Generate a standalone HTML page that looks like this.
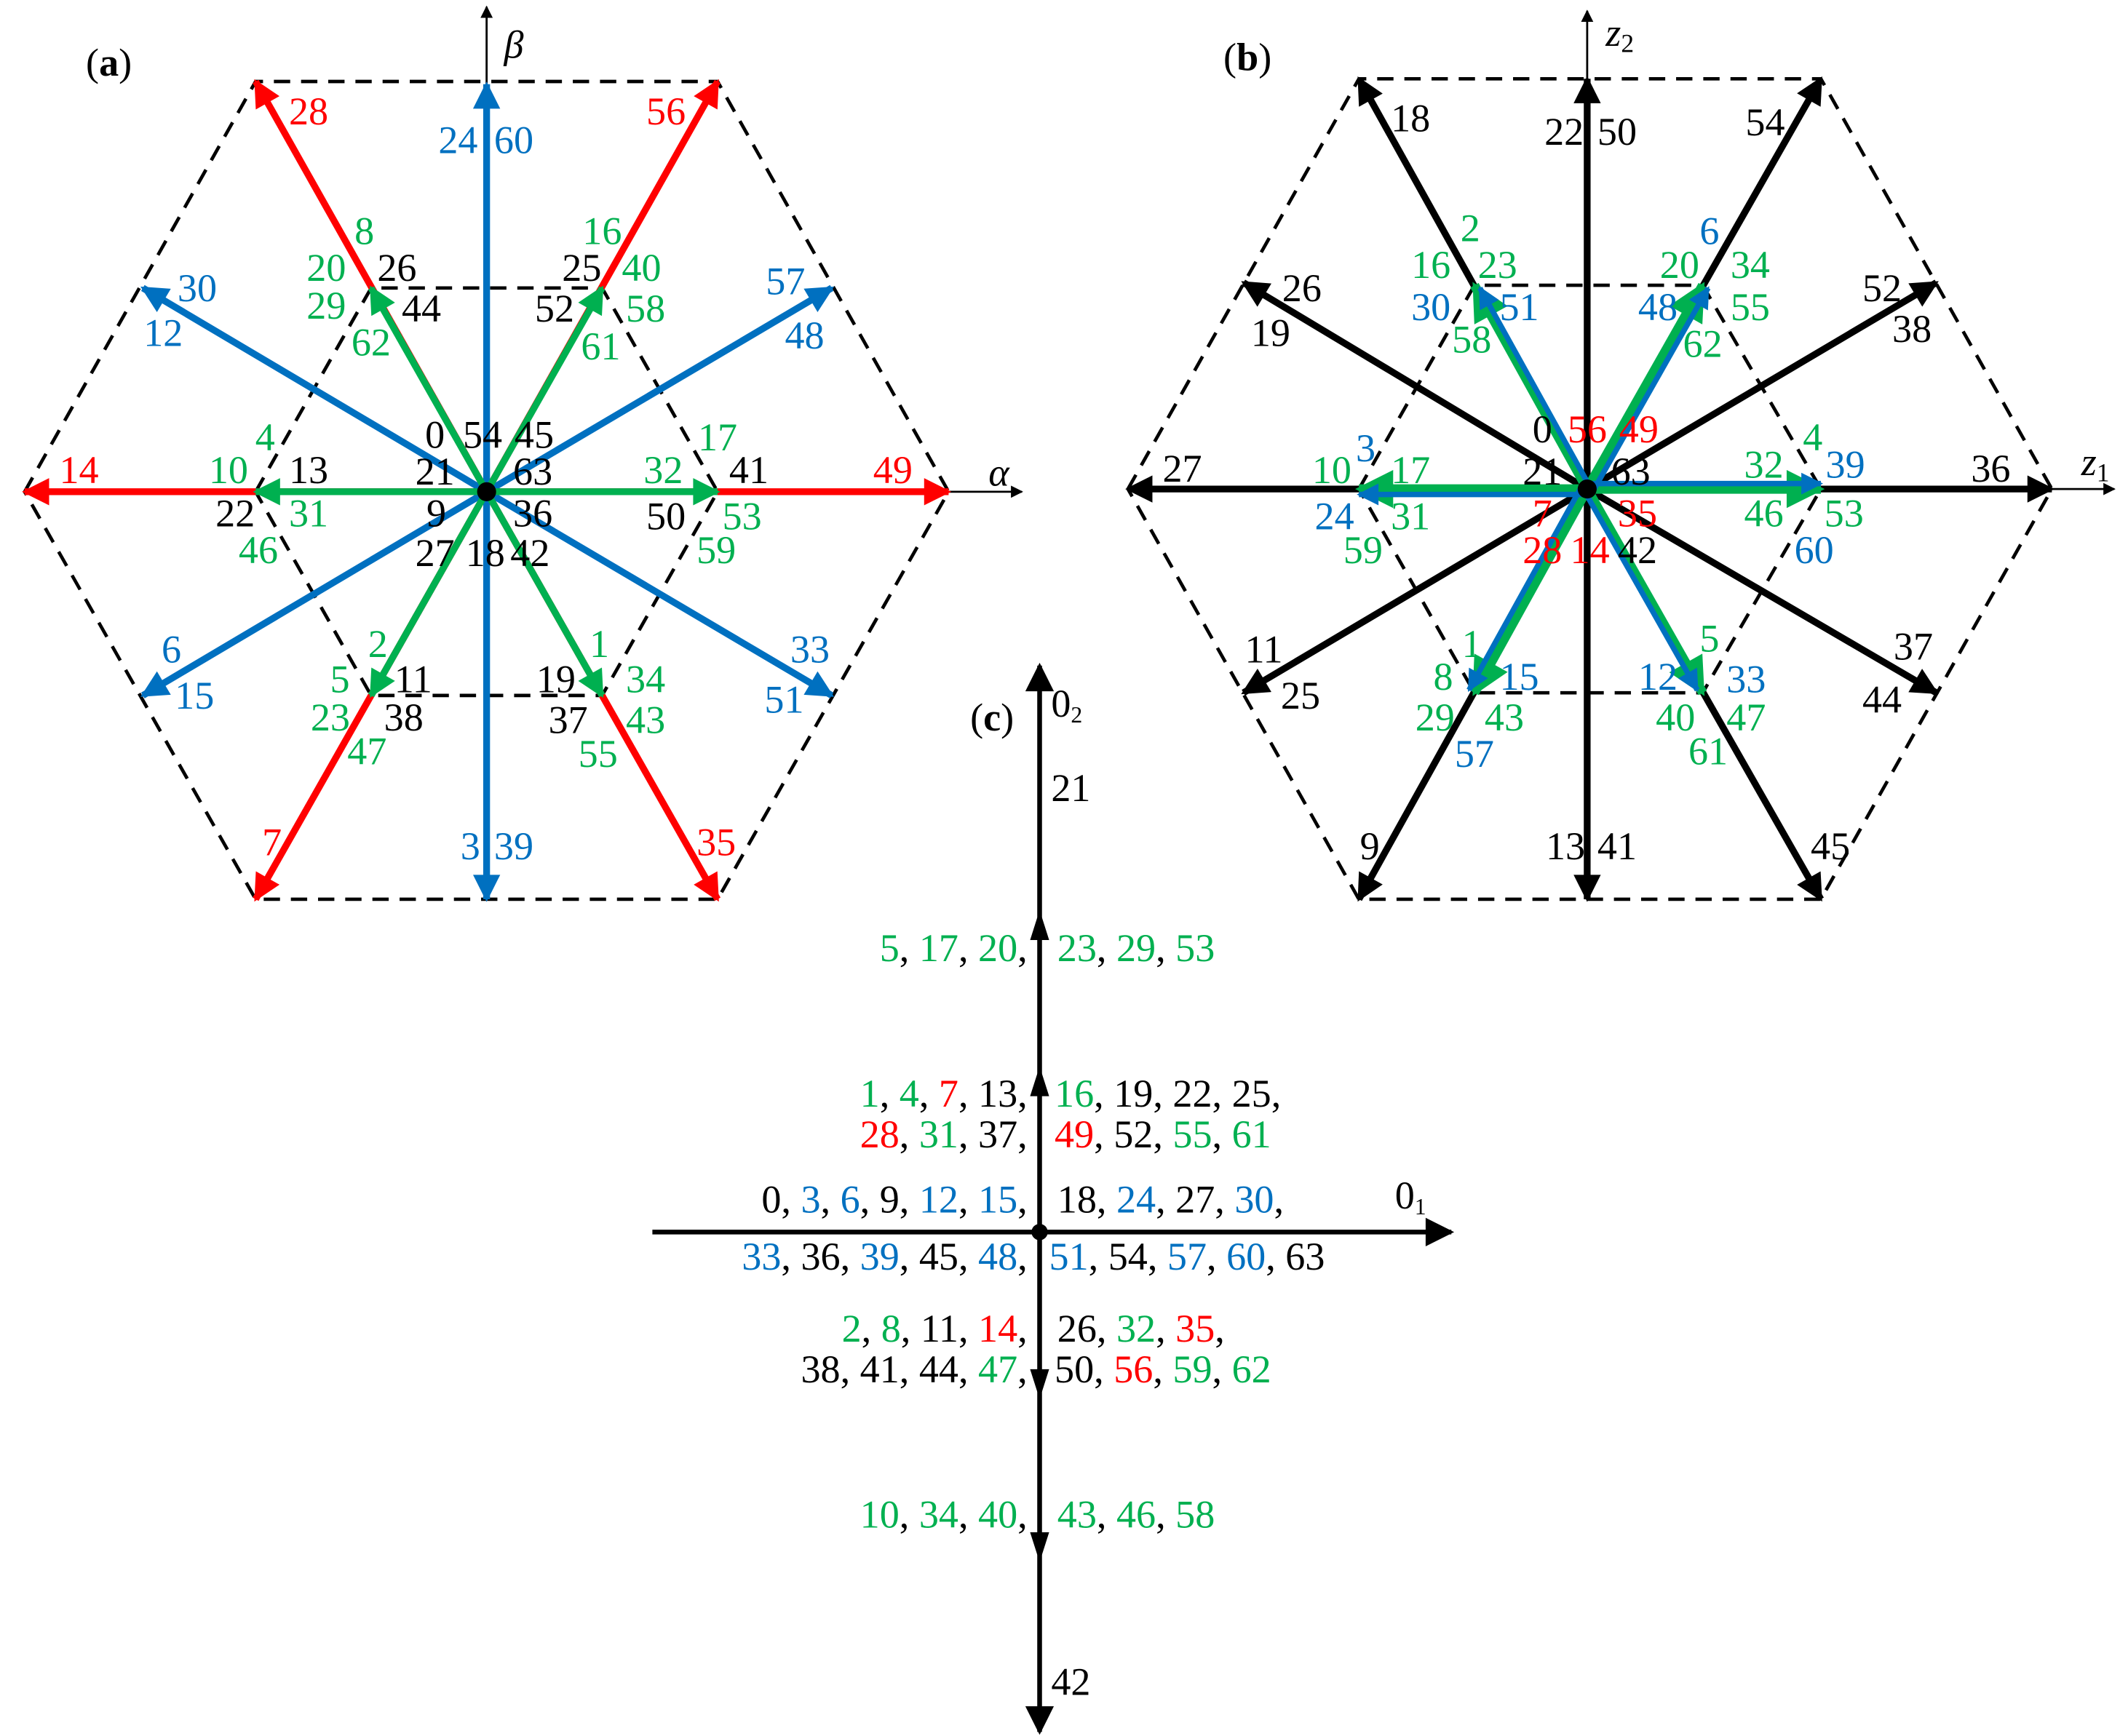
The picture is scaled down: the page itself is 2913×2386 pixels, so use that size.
<!DOCTYPE html>
<html><head><meta charset="utf-8"><style>
html,body{margin:0;padding:0;background:#fff}
svg{display:block}
svg, svg text{font-family:"Liberation Serif","DejaVu Serif",serif}
text{font-size:29px;text-anchor:middle;dominant-baseline:central}
.b{fill:#0070C0}.g{fill:#00B050}.r{fill:#FF0000}.k{fill:#000}
.L{text-anchor:end}.S{text-anchor:start}
</style></head><body>
<svg width="2913" height="2386" viewBox="0 0 1560 1278" xmlns="http://www.w3.org/2000/svg" font-family="Liberation Serif, serif">
<defs>
<marker id="mb" viewBox="0 0 10 10" refX="9" refY="5" markerWidth="5" markerHeight="4" orient="auto" markerUnits="strokeWidth"><path d="M0,0L10,5L0,10z" fill="#0070C0"/></marker>
<marker id="mg" viewBox="0 0 10 10" refX="9" refY="5" markerWidth="5" markerHeight="4" orient="auto" markerUnits="strokeWidth"><path d="M0,0L10,5L0,10z" fill="#00B050"/></marker>
<marker id="mr" viewBox="0 0 10 10" refX="9" refY="5" markerWidth="5" markerHeight="4" orient="auto" markerUnits="strokeWidth"><path d="M0,0L10,5L0,10z" fill="#FF0000"/></marker>
<marker id="mk" viewBox="0 0 10 10" refX="9" refY="5" markerWidth="5" markerHeight="4" orient="auto" markerUnits="strokeWidth"><path d="M0,0L10,5L0,10z" fill="#000"/></marker>
<marker id="mt" viewBox="0 0 10 10" refX="9" refY="5" markerWidth="9" markerHeight="6" orient="auto" markerUnits="strokeWidth"><path d="M0,0L10,5L0,10z" fill="#000"/></marker>
</defs>

<!-- Panel (a) -->
<g fill="none" stroke="#000" stroke-width="2.5" stroke-dasharray="12,8">
<polygon points="18,362 188,60 528,60 698,362 528,662 188,662"/>
<polygon points="188,362 273,212 443,212 528,362 443,512 273,512"/>
</g>
<line x1="358" y1="362" x2="358" y2="5" stroke="#000" stroke-width="1.5" marker-end="url(#mt)"/>
<line x1="358" y1="362" x2="752" y2="362" stroke="#000" stroke-width="1.5" marker-end="url(#mt)"/>
<g stroke="#FF0000" stroke-width="5" marker-end="url(#mr)">
<line x1="358" y1="362" x2="188" y2="60"/><line x1="358" y1="362" x2="528" y2="60"/>
<line x1="358" y1="362" x2="18" y2="362"/><line x1="358" y1="362" x2="698" y2="362"/>
<line x1="358" y1="362" x2="188" y2="662"/><line x1="358" y1="362" x2="528" y2="662"/>
</g>
<g stroke="#0070C0" stroke-width="5" marker-end="url(#mb)">
<line x1="358" y1="362" x2="358" y2="62"/><line x1="358" y1="362" x2="358" y2="662"/>
<line x1="358" y1="362" x2="105" y2="212"/><line x1="358" y1="362" x2="612" y2="212"/>
<line x1="358" y1="362" x2="105" y2="512"/><line x1="358" y1="362" x2="612" y2="512"/>
</g>
<g stroke="#00B050" stroke-width="5" marker-end="url(#mg)">
<line x1="358" y1="362" x2="273" y2="212"/><line x1="358" y1="362" x2="443" y2="212"/>
<line x1="358" y1="362" x2="188" y2="362"/><line x1="358" y1="362" x2="528" y2="362"/>
<line x1="358" y1="362" x2="273" y2="512"/><line x1="358" y1="362" x2="443" y2="512"/>
</g>
<circle cx="358" cy="362" r="7" fill="#000"/>
<text x="80" y="46" class="k">(<tspan font-weight="bold">a</tspan>)</text>
<text x="378" y="33" font-style="italic" font-size="34">β</text>
<text x="735" y="348" font-style="italic" font-size="34">α</text>
<text x="227" y="82" class="r">28</text><text x="490" y="82" class="r">56</text>
<text x="337" y="103" class="b">24</text><text x="378" y="103" class="b">60</text>
<text x="145" y="212" class="b">30</text><text x="120" y="245" class="b">12</text>
<text x="578" y="207" class="b">57</text><text x="592" y="247" class="b">48</text>
<text x="268" y="170" class="g">8</text><text x="240" y="197" class="g">20</text><text x="240" y="225" class="g">29</text><text x="273" y="252" class="g">62</text>
<text x="292" y="197">26</text><text x="310" y="227">44</text>
<text x="443" y="170" class="g">16</text><text x="428" y="197">25</text><text x="408" y="227">52</text>
<text x="472" y="197" class="g">40</text><text x="475" y="227" class="g">58</text><text x="442" y="255" class="g">61</text>
<text x="195" y="322" class="g">4</text><text x="168" y="346" class="g">10</text><text x="227" y="346">13</text>
<text x="173" y="378">22</text><text x="227" y="378" class="g">31</text><text x="190" y="405" class="g">46</text>
<text x="58" y="346" class="r">14</text><text x="657" y="346" class="r">49</text>
<text x="528" y="322" class="g">17</text><text x="488" y="346" class="g">32</text><text x="551" y="346">41</text>
<text x="490" y="380">50</text><text x="546" y="380" class="g">53</text><text x="527" y="405" class="g">59</text>
<text x="320" y="320">0</text><text x="355" y="320">54</text><text x="393" y="320">45</text>
<text x="320" y="347">21</text><text x="392" y="347">63</text>
<text x="321" y="378">9</text><text x="392" y="378">36</text>
<text x="320" y="407">27</text><text x="357" y="407">18</text><text x="390" y="407">42</text>
<text x="126" y="478" class="b">6</text><text x="143" y="512" class="b">15</text>
<text x="596" y="478" class="b">33</text><text x="577" y="515" class="b">51</text>
<text x="278" y="474" class="g">2</text><text x="250" y="500" class="g">5</text><text x="243" y="528" class="g">23</text><text x="270" y="553" class="g">47</text>
<text x="304" y="500">11</text><text x="297" y="528">38</text>
<text x="441" y="474" class="g">1</text><text x="409" y="500">19</text><text x="418" y="530">37</text>
<text x="475" y="500" class="g">34</text><text x="475" y="530" class="g">43</text><text x="440" y="555" class="g">55</text>
<text x="200" y="620" class="r">7</text><text x="527" y="620" class="r">35</text>
<text x="346" y="623" class="b">3</text><text x="378" y="623" class="b">39</text>

<!-- Panel (b) -->
<g fill="none" stroke="#000" stroke-width="2.5" stroke-dasharray="12,8">
<polygon points="830,360 1000,58 1340,58 1510,360 1340,662 1000,662"/>
<polygon points="1000,360 1085,210 1253,210 1340,360 1253,510 1085,510"/>
</g>
<line x1="1168" y1="360" x2="1168" y2="8" stroke="#000" stroke-width="1.5" marker-end="url(#mt)"/>
<line x1="1168" y1="360" x2="1556" y2="360" stroke="#000" stroke-width="1.5" marker-end="url(#mt)"/>
<g stroke="#000" stroke-width="5" marker-end="url(#mk)">
<line x1="1168" y1="360" x2="830" y2="360"/><line x1="1168" y1="360" x2="1510" y2="360"/>
<line x1="1168" y1="360" x2="1000" y2="58"/><line x1="1168" y1="360" x2="1340" y2="58"/>
<line x1="1168" y1="360" x2="1000" y2="662"/><line x1="1168" y1="360" x2="1340" y2="662"/>
<line x1="1168" y1="360" x2="1168" y2="58"/><line x1="1168" y1="360" x2="1168" y2="662"/>
<line x1="1168" y1="360" x2="915" y2="208"/><line x1="1168" y1="360" x2="1425" y2="208"/>
<line x1="1168" y1="360" x2="915" y2="510"/><line x1="1168" y1="360" x2="1425" y2="510"/>
</g>
<g stroke="#00B050" stroke-width="7" marker-end="url(#mg)">
<line x1="1168" y1="360" x2="1085" y2="210"/><line x1="1168" y1="360" x2="1253" y2="210"/>
<line x1="1168" y1="360" x2="1000" y2="360"/><line x1="1168" y1="360" x2="1340" y2="360"/>
<line x1="1168" y1="360" x2="1085" y2="510"/><line x1="1168" y1="360" x2="1253" y2="510"/>
</g>
<g stroke="#0070C0" stroke-width="4" marker-end="url(#mb)">
<line x1="1172" y1="362" x2="1089" y2="212"/><line x1="1172" y1="362" x2="1257" y2="212"/>
<line x1="1168" y1="364" x2="1000" y2="364"/><line x1="1168" y1="356" x2="1340" y2="356"/>
<line x1="1164" y1="358" x2="1081" y2="508"/><line x1="1164" y1="358" x2="1249" y2="508"/>
</g>
<circle cx="1168" cy="360" r="7" fill="#000"/>
<text x="918" y="42">(<tspan font-weight="bold">b</tspan>)</text>
<text x="1192" y="24" font-style="italic" font-size="32">z<tspan font-size="19" font-style="normal" dy="8">2</tspan></text>
<text x="1542" y="340" font-style="italic" font-size="32">z<tspan font-size="19" font-style="normal" dy="8">1</tspan></text>
<text x="1038" y="87">18</text><text x="1151" y="97">22</text><text x="1190" y="97">50</text><text x="1299" y="90">54</text>
<text x="958" y="212">26</text><text x="935" y="245">19</text><text x="1385" y="212">52</text><text x="1407" y="242">38</text>
<text x="1082" y="168" class="g">2</text><text x="1053" y="195" class="g">16</text><text x="1102" y="195" class="g">23</text>
<text x="1053" y="226" class="b">30</text><text x="1118" y="226" class="b">51</text><text x="1083" y="250" class="g">58</text>
<text x="1258" y="170" class="b">6</text><text x="1236" y="195" class="g">20</text><text x="1288" y="195" class="g">34</text>
<text x="1220" y="226" class="b">48</text><text x="1288" y="226" class="g">55</text><text x="1253" y="253" class="g">62</text>
<text x="1135" y="316">0</text><text x="1168" y="316" class="r">56</text><text x="1206" y="316" class="r">49</text>
<text x="1135" y="347">21</text><text x="1200" y="347">63</text>
<text x="1005" y="330" class="b">3</text><text x="980" y="346" class="g">10</text><text x="1038" y="346" class="g">17</text>
<text x="982" y="380" class="b">24</text><text x="1038" y="380" class="g">31</text><text x="1003" y="405" class="g">59</text>
<text x="870" y="345">27</text><text x="1465" y="345">36</text>
<text x="1334" y="322" class="g">4</text><text x="1298" y="342" class="g">32</text><text x="1358" y="342" class="b">39</text>
<text x="1298" y="378" class="g">46</text><text x="1357" y="378" class="g">53</text><text x="1335" y="405" class="b">60</text>
<text x="1135" y="378" class="r">7</text><text x="1205" y="378" class="r">35</text>
<text x="1135" y="405" class="r">28</text><text x="1170" y="405" class="r">14</text><text x="1205" y="405">42</text>
<text x="930" y="478">11</text><text x="957" y="512">25</text><text x="1408" y="476">37</text><text x="1385" y="515">44</text>
<text x="1083" y="474" class="g">1</text><text x="1062" y="498" class="g">8</text><text x="1118" y="498" class="b">15</text>
<text x="1056" y="528" class="g">29</text><text x="1107" y="528" class="g">43</text><text x="1085" y="555" class="b">57</text>
<text x="1258" y="470" class="g">5</text><text x="1220" y="498" class="b">12</text><text x="1285" y="500" class="b">33</text>
<text x="1233" y="528" class="g">40</text><text x="1285" y="528" class="g">47</text><text x="1257" y="553" class="g">61</text>
<text x="1008" y="623">9</text><text x="1152" y="623">13</text><text x="1190" y="623">41</text><text x="1347" y="623">45</text>

<!-- Panel (c) -->
<line x1="480" y1="907" x2="1068" y2="907" stroke="#000" stroke-width="3.5" marker-end="url(#mt)"/>
<line x1="765" y1="907" x2="765" y2="490" stroke="#000" stroke-width="3.5" marker-end="url(#mt)"/>
<line x1="765" y1="907" x2="765" y2="1275" stroke="#000" stroke-width="3.5" marker-end="url(#mt)"/>
<g fill="#000">
<path d="M765,670 L758,692 L772,692z"/><path d="M765,785 L758,807 L772,807z"/>
<path d="M765,1030 L758,1008 L772,1008z"/><path d="M765,1150 L758,1128 L772,1128z"/>
</g>
<circle cx="765" cy="907" r="6" fill="#000"/>
<text x="730" y="528">(<tspan font-weight="bold">c</tspan>)</text>
<text x="785" y="518">0<tspan font-size="17" dy="8">2</tspan></text>
<text x="1038" y="880">0<tspan font-size="17" dy="8">1</tspan></text>
<text x="788" y="580">21</text><text x="788" y="1238">42</text>
<text x="756" y="698" class="L"><tspan class="g">5</tspan>, <tspan class="g">17</tspan>, <tspan class="g">20</tspan>,</text>
<text x="778" y="698" class="S"><tspan class="g">23</tspan>, <tspan class="g">29</tspan>, <tspan class="g">53</tspan></text>
<text x="756" y="805" class="L"><tspan class="g">1</tspan>, <tspan class="g">4</tspan>, <tspan class="r">7</tspan>, 13,</text>
<text x="776" y="805" class="S"><tspan class="g">16</tspan>, 19, 22, 25,</text>
<text x="756" y="835" class="L"><tspan class="r">28</tspan>, <tspan class="g">31</tspan>, 37,</text>
<text x="776" y="835" class="S"><tspan class="r">49</tspan>, 52, <tspan class="g">55</tspan>, <tspan class="g">61</tspan></text>
<text x="756" y="883" class="L">0, <tspan class="b">3</tspan>, <tspan class="b">6</tspan>, 9, <tspan class="b">12</tspan>, <tspan class="b">15</tspan>,</text>
<text x="778" y="883" class="S">18,  <tspan class="b">24</tspan>, 27, <tspan class="b">30</tspan>,</text>
<text x="756" y="925" class="L"><tspan class="b">33</tspan>, 36, <tspan class="b">39</tspan>, 45, <tspan class="b">48</tspan>,</text>
<text x="772" y="925" class="S"><tspan class="b">51</tspan>, 54, <tspan class="b">57</tspan>, <tspan class="b">60</tspan>, 63</text>
<text x="756" y="978" class="L"><tspan class="g">2</tspan>, <tspan class="g">8</tspan>, 11, <tspan class="r">14</tspan>,</text>
<text x="778" y="978" class="S">26, <tspan class="g">32</tspan>, <tspan class="r">35</tspan>,</text>
<text x="756" y="1008" class="L">38, 41, 44, <tspan class="g">47</tspan>,</text>
<text x="776" y="1008" class="S">50, <tspan class="r">56</tspan>, <tspan class="g">59</tspan>, <tspan class="g">62</tspan></text>
<text x="756" y="1115" class="L"><tspan class="g">10</tspan>, <tspan class="g">34</tspan>, <tspan class="g">40</tspan>,</text>
<text x="778" y="1115" class="S"><tspan class="g">43</tspan>, <tspan class="g">46</tspan>, <tspan class="g">58</tspan></text>
</svg>
</body></html>
